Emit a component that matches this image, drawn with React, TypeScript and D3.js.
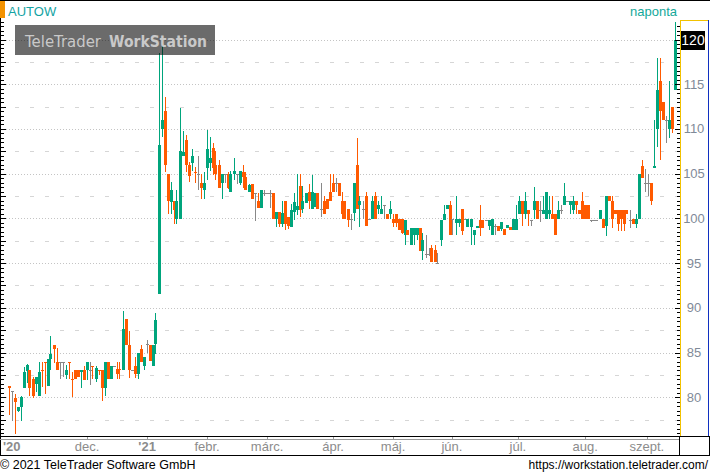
import * as d3 from 'd3';

// daily candles: open, high, low, close (Nov 2020 – Sep 2021)
const candles: [number, number, number, number][] = [
  [81.3, 81.3, 78.0, 81.0], [80.75, 80.75, 77.4, 80.75], [79.9, 80.4, 75.9, 79.45], [78.45, 78.9, 78.4, 78.9],
  [78.9, 80.1, 77.4, 80.05], [81.0, 83.4, 81.0, 82.85], [82.9, 83.7, 81.6, 83.65], [83.0, 83.0, 80.1, 81.0],
  [82.05, 82.3, 79.9, 80.1], [81.5, 82.3, 80.6, 82.3], [80.1, 83.9, 80.1, 82.85], [83.0, 83.9, 81.1, 82.9],
  [83.9, 83.9, 80.4, 83.85], [81.25, 84.3, 81.25, 84.3], [84.3, 86.8, 83.0, 84.8], [85.9, 85.9, 83.8, 85.35],
  [83.9, 85.5, 83.1, 83.1], [83.9, 83.9, 82.05, 83.9], [83.9, 83.9, 82.25, 83.9], [82.45, 83.65, 82.05, 83.0],
  [83.9, 83.9, 82.05, 83.85], [82.1, 82.8, 80.0, 82.05], [83.0, 83.0, 82.05, 82.05], [83.0, 83.0, 82.3, 82.3],
  [82.8, 83.0, 81.0, 83.0], [83.0, 83.55, 81.95, 81.95], [83.0, 84.0, 81.95, 83.9], [83.0, 83.9, 81.4, 83.0],
  [83.45, 83.45, 82.0, 83.4], [82.05, 83.45, 81.7, 83.25], [83.0, 83.1, 82.5, 82.95], [83.0, 83.0, 79.55, 81.0],
  [81.0, 83.9, 80.1, 83.9], [83.9, 83.9, 82.05, 82.05], [82.05, 83.45, 82.05, 83.45], [83.45, 83.45, 83.45, 83.45],
  [83.15, 83.9, 82.05, 82.6], [83.15, 83.9, 82.05, 83.0], [83.0, 89.7, 83.0, 87.65], [88.8, 88.8, 85.9, 85.9],
  [85.9, 87.45, 82.15, 83.1], [83.1, 83.1, 83.1, 83.1], [83.45, 84.5, 82.15, 82.6], [82.6, 84.95, 82.05, 84.95],
  [85.35, 85.9, 83.9, 83.9], [83.55, 84.5, 83.05, 84.5], [85.95, 86.45, 84.95, 85.95], [85.9, 85.9, 84.1, 84.1],
  [83.55, 85.9, 83.55, 85.9], [85.95, 89.4, 84.8, 88.6], [91.6, 118.5, 91.5, 108.2], [110.0, 119.8, 109.1, 110.95],
  // jan - feb
  [112.0, 113.6, 105.2, 105.95], [104.95, 104.95, 100.45, 101.95], [101.85, 104.05, 100.5, 103.15], [101.9, 101.9, 99.4, 100.9],
  [99.95, 103.15, 99.4, 101.9], [99.95, 112.35, 99.95, 107.5], [106.95, 109.75, 106.95, 107.45], [108.75, 109.3, 105.2, 105.95],
  [105.95, 106.3, 104.05, 104.75], [106.2, 107.8, 105.35, 106.95], [105.15, 105.75, 103.95, 105.05], [104.95, 106.95, 103.15, 104.95],
  [103.95, 104.95, 102.2, 103.45], [103.2, 105.2, 102.2, 103.95], [105.65, 109.85, 104.25, 107.8], [106.2, 109.1, 105.25, 106.75],
  [107.9, 108.45, 104.8, 105.65], [105.95, 107.5, 104.25, 104.95], [105.95, 106.5, 103.45, 103.45], [103.95, 104.95, 102.2, 104.95],
  [104.95, 104.95, 103.95, 104.95], [104.95, 105.2, 103.3, 103.45], [102.95, 105.35, 102.95, 104.95], [104.95, 106.7, 104.25, 105.35],
  [104.95, 104.95, 103.8, 104.95], [103.95, 105.35, 103.7, 105.35], [105.2, 105.95, 103.45, 104.65], [104.65, 105.2, 103.15, 103.15],
  [102.95, 103.9, 102.95, 103.7], [103.9, 103.9, 102.2, 102.2], [102.85, 102.85, 99.7, 102.85], [101.9, 102.85, 101.2, 101.2],
  [101.2, 103.15, 101.2, 103.15], [102.85, 103.15, 102.55, 102.85], [102.85, 102.85, 102.85, 102.85], [102.85, 103.15, 101.2, 102.85],
  [102.85, 102.85, 99.95, 99.95], [99.95, 100.7, 99.05, 100.7], [100.7, 100.7, 99.05, 99.4], [99.4, 101.9, 99.05, 100.6],
  [101.9, 101.9, 98.75, 99.4], [100.15, 100.15, 98.85, 99.2], [99.05, 101.6, 99.05, 100.9], [100.7, 102.85, 99.8, 101.85],
  [100.9, 104.95, 100.35, 101.4], [103.6, 104.95, 100.15, 100.9],
  // mar - may
  [101.0, 103.6, 100.6, 102.0], [101.7, 102.8, 101.7, 102.8], [103.0, 103.8, 101.0, 102.0], [101.0, 104.8, 101.0, 103.0],
  [101.3, 102.8, 101.3, 102.8], [102.8, 102.8, 101.0, 101.0], [101.0, 104.0, 100.2, 101.0], [102.0, 102.5, 100.5, 100.5],
  [102.2, 102.2, 101.0, 101.0], [103.0, 105.0, 101.9, 101.9], [104.0, 105.0, 103.0, 103.0], [104.0, 104.5, 103.0, 104.0],
  [104.0, 104.0, 102.5, 102.5], [102.0, 103.0, 99.9, 100.5], [102.0, 102.0, 99.9, 99.9], [101.0, 101.0, 99.0, 99.85],
  [99.9, 100.5, 98.7, 99.9], [100.6, 104.0, 99.7, 104.0], [106.0, 109.0, 101.0, 101.0], [101.5, 102.5, 99.0, 102.0],
  [101.0, 102.0, 99.9, 101.0], [102.5, 103.0, 99.2, 99.2], [99.9, 99.9, 99.9, 99.9], [99.9, 102.5, 99.9, 102.0],
  [102.5, 103.0, 99.9, 99.9], [101.0, 102.0, 100.5, 101.5], [100.5, 102.5, 100.5, 101.0], [101.5, 101.5, 99.9, 101.5],
  [100.5, 100.5, 99.9, 99.9], [100.5, 102.0, 99.9, 101.0], [99.9, 100.5, 99.0, 99.5], [100.5, 100.5, 99.0, 99.5],
  [99.9, 99.9, 98.7, 98.7], [99.9, 99.9, 98.25, 98.4], [98.2, 99.85, 97.05, 99.85], [98.7, 98.7, 98.2, 98.2],
  [97.05, 98.9, 97.05, 98.9], [98.2, 98.9, 97.05, 98.9], [98.2, 98.9, 97.6, 98.9], [98.9, 98.9, 96.4, 96.4],
  [96.4, 98.4, 95.4, 97.6], [96.0, 98.2, 95.6, 96.0], [96.0, 96.7, 95.75, 96.0], [96.7, 97.05, 95.1, 95.1],
  [96.5, 97.05, 95.1, 95.1], [95.0, 96.1, 95.0, 95.0], [97.6, 99.85, 96.9, 99.85], [99.85, 101.5, 99.85, 100.5],
  [101.0, 101.5, 101.0, 101.5], [101.5, 102.0, 98.1, 98.1], [99.9, 99.9, 98.2, 99.9], [99.5, 102.5, 98.2, 99.9],
  [99.5, 99.9, 99.0, 99.9], [101.0, 101.0, 98.1, 98.6], [99.9, 99.9, 99.9, 99.9], [99.0, 99.9, 99.0, 99.9],
  [99.0, 99.9, 97.05, 99.9], [98.2, 98.7, 97.05, 98.7], [98.9, 99.2, 98.9, 99.2],
  // jun - sep
  [99.85, 101.5, 98.0, 98.95], [99.85, 99.85, 98.95, 98.95], [99.85, 99.85, 99.85, 99.85], [99.1, 99.85, 98.75, 99.85],
  [98.1, 99.9, 98.1, 99.9], [99.1, 99.4, 98.1, 99.1], [99.1, 99.1, 98.55, 98.55], [98.85, 99.55, 98.6, 99.55],
  [98.85, 98.85, 98.1, 98.1], [98.9, 99.3, 98.9, 99.3], [99.05, 99.05, 98.75, 98.75], [98.75, 99.9, 98.75, 99.9],
  [98.75, 101.45, 98.75, 99.9], [100.5, 102.45, 100.5, 101.9], [101.9, 101.9, 99.15, 100.5], [100.5, 102.95, 99.9, 101.9],
  [100.9, 100.9, 99.15, 100.5], [99.85, 99.85, 99.15, 99.85], [100.9, 103.5, 99.9, 101.9], [101.9, 101.9, 99.9, 99.9],
  [100.9, 101.9, 99.6, 100.9], [100.5, 102.45, 100.5, 100.9], [99.9, 102.95, 99.9, 102.95], [100.5, 102.45, 99.9, 100.9],
  [100.5, 102.45, 99.9, 99.9], [100.5, 100.5, 98.1, 98.1], [99.9, 101.9, 99.9, 100.9], [100.9, 101.45, 100.5, 100.9],
  [101.45, 103.95, 101.45, 102.45], [101.9, 101.9, 101.9, 101.9], [101.45, 101.9, 100.5, 101.9], [100.9, 102.45, 100.5, 101.9],
  [101.9, 101.9, 100.5, 101.45], [100.9, 100.9, 100.5, 100.5], [101.9, 102.95, 99.9, 99.9], [101.45, 101.45, 99.9, 99.9],
  [101.45, 101.45, 99.9, 99.9], [99.85, 99.85, 99.6, 99.85], [99.85, 99.85, 99.85, 99.85], [99.85, 99.85, 99.85, 99.85],
  [99.9, 100.9, 99.9, 100.9], [99.9, 99.9, 98.95, 98.95], [99.1, 102.45, 98.0, 102.45], [102.45, 102.45, 101.9, 101.9],
  [101.9, 102.45, 98.95, 99.9], [100.9, 100.9, 100.45, 100.45], [100.9, 100.9, 98.6, 99.4], [100.9, 100.9, 98.6, 99.9],
  [100.9, 100.9, 98.6, 99.4], [100.9, 100.9, 100.45, 100.45], [99.85, 100.9, 98.95, 99.85], [99.9, 99.9, 99.4, 99.4],
  [99.4, 100.45, 98.95, 99.9], [99.9, 105.0, 99.9, 105.0], [105.9, 106.5, 104.55, 104.55], [103.95, 105.5, 102.95, 103.95],
  [103.95, 105.0, 102.55, 103.95], [103.95, 103.95, 101.45, 101.9], [105.6, 111.0, 105.6, 105.9], [110.0, 117.9, 108.0, 114.4],
  [115.4, 117.9, 106.5, 112.0], [113.0, 113.0, 111.0, 111.0], [111.0, 111.5, 108.4, 111.0], [110.0, 115.4, 109.0, 111.0],
  [112.4, 112.4, 109.5, 110.0], [114.4, 122.0, 114.4, 120.0],
];

// x-axis labels, placed at candle index positions
const monthTicks = [0, 26.2, 46.2, 66.2, 86.2, 108.2, 128.2, 147.8, 169.8, 192.2, 212.8];
const monthLabels = ["'20", 'dec.', "'21", 'febr.', 'márc.', 'ápr.', 'máj.', 'jún.', 'júl.', 'aug.', 'szept.'];
const priceLabels = [80, 85, 90, 95, 100, 105, 110, 115];
const lastPrice = 120;

const W = 710;
const plotRight = 680;
const plotBottom = 436;
const GREEN = '#00a57c';
const ORANGE = '#ff5a00';
const GREY = '#888888';
const FONT = "'Liberation Sans', Arial, sans-serif";

export default function App() {
  const x = d3.scaleLinear().domain([0, candles.length - 1]).range([8.5, 674.5]);
  const y = d3.scaleLinear().domain([80, 120]).range([397.3, 39.5]);

  const majorGrid = d3.range(80, 121, 5);
  const minorGrid = d3.range(77.5, 120, 5);
  const axisTicks = d3.range(76, 124.01, 0.5);

  return (
    <div style={{ position: 'absolute', left: 0, top: 0 }}>
      <svg width={W} height={474} style={{ display: 'block', fontFamily: FONT }}>
        <rect width={W} height={474} fill="#fff" />

        {/* grid */}
        {minorGrid.map(v => (
          <line key={'m' + v} x1={0} x2={plotRight} y1={Math.round(y(v)) + 0.5} y2={Math.round(y(v)) + 0.5}
            stroke="#d6d6d6" strokeDasharray="4 11" />
        ))}
        {majorGrid.map(v => (
          <line key={'g' + v} x1={0} x2={plotRight} y1={Math.round(y(v)) + 0.5} y2={Math.round(y(v)) + 0.5}
            stroke="#c4c4c4" strokeDasharray="1 2" />
        ))}

        {/* candles */}
        <g shapeRendering="crispEdges">
          {candles.map(([o, h, l, c], i) => {
            const cx = Math.round(x(i));
            const col = c > o ? GREEN : c < o ? ORANGE : GREY;
            const top = Math.round(y(Math.max(h, o, c)));
            const bot = Math.round(y(Math.min(l, o, c)));
            const bTop = Math.round(y(Math.max(o, c)));
            const bBot = Math.round(y(Math.min(o, c)));
            return (
              <g key={i} fill={col}>
                <rect x={cx} y={top} width={1} height={Math.max(1, bot - top)} />
                <rect x={cx - 1} y={bTop} width={3} height={Math.max(1, bBot - bTop)} />
              </g>
            );
          })}
        </g>

        {/* watermark */}
        <rect x={15} y={25} width={200} height={30} fill="#000" opacity={0.58} />
        <g fontFamily="'DejaVu Sans', Verdana, sans-serif" fontSize={16.5} fill="#c9c9c9">
          <text x={25} y={47} textLength={76} lengthAdjust="spacingAndGlyphs">TeleTrader</text>
          <text x={109} y={47} fontWeight="bold" textLength={98} lengthAdjust="spacingAndGlyphs">WorkStation</text>
        </g>

        {/* header */}
        <rect x={0} y={0} width={5} height={18} fill="#f39200" />
        <text x={8} y={16} fontSize={13} fill="#13a3a3">AUTOW</text>
        <text x={677} y={16} fontSize={13} fill="#13a89a" textAnchor="end">naponta</text>

        {/* frame */}
        <g shapeRendering="crispEdges">
          <line x1={0} x2={W} y1={0.5} y2={0.5} stroke="#000" />
          <line x1={0.5} x2={0.5} y1={18} y2={456} stroke="#000" />
          {axisTicks.filter(v => y(v) > 20 && y(v) < plotBottom).map(v => (
            <line key={'l' + v} x1={0} x2={v % 2.5 === 0 ? 6 : 4} y1={Math.round(y(v)) + 0.5} y2={Math.round(y(v)) + 0.5} stroke="#000" />
          ))}

          {/* right price axis */}
          <line x1={plotRight + 0.5} x2={plotRight + 0.5} y1={20} y2={plotBottom} stroke="#f2c200" />
          <line x1={plotRight} x2={709} y1={20.5} y2={20.5} stroke="#f2c200" />
          <line x1={708.5} x2={708.5} y1={20} y2={plotBottom} stroke="#1030c0" />
          {axisTicks.filter(v => y(v) > 22 && y(v) < plotBottom).map(v => (
            <line key={'r' + v} x1={v % 5 === 0 ? 675 : 677} x2={plotRight} y1={Math.round(y(v)) + 0.5} y2={Math.round(y(v)) + 0.5} stroke="#000" />
          ))}

          {/* x axis strip */}
          <line x1={0} x2={W} y1={plotBottom + 0.5} y2={plotBottom + 0.5} stroke="#000" />
          <line x1={0} x2={679} y1={439.5} y2={439.5} stroke="#9a9a9a" />
          <line x1={0} x2={W} y1={455.5} y2={455.5} stroke="#000" />
          <line x1={679.5} x2={679.5} y1={plotBottom} y2={456} stroke="#000" />
          <line x1={709.5} x2={709.5} y1={plotBottom} y2={456} stroke="#000" />
          {monthTicks.slice(1).map(t => (
            <line key={'t' + t} x1={Math.round(x(t)) + 0.5} x2={Math.round(x(t)) + 0.5} y1={437} y2={440} stroke="#9a9a9a" />
          ))}
        </g>

        {priceLabels.map(v => (
          <text key={'p' + v} x={694} y={y(v) + 4.5} fontSize={13} fill="#7f8a98" textAnchor="middle">{v}</text>
        ))}
        <rect x={681} y={31} width={24} height={19} fill="#000" />
        <text x={693} y={y(lastPrice) + 5} fontSize={14} fill="#fff" textAnchor="middle">{lastPrice}</text>

        {monthTicks.map((t, i) => {
          const year = monthLabels[i].startsWith("'");
          const first = i === 0;
          return (
            <text key={'x' + i} x={first ? 3 : x(t)} y={451} fontSize={13} textAnchor={first ? 'start' : 'middle'}
              fill="#8c8c8c" fontWeight={year ? 'bold' : 'normal'}>{monthLabels[i]}</text>
          );
        })}

        {/* footer */}
        <text x={0} y={469} fontSize={12.5} fill="#000">© 2021 TeleTrader Software GmbH</text>
        <text x={708} y={469} fontSize={12} fill="#000" textAnchor="end">https://workstation.teletrader.com/</text>
      </svg>
    </div>
  );
}
